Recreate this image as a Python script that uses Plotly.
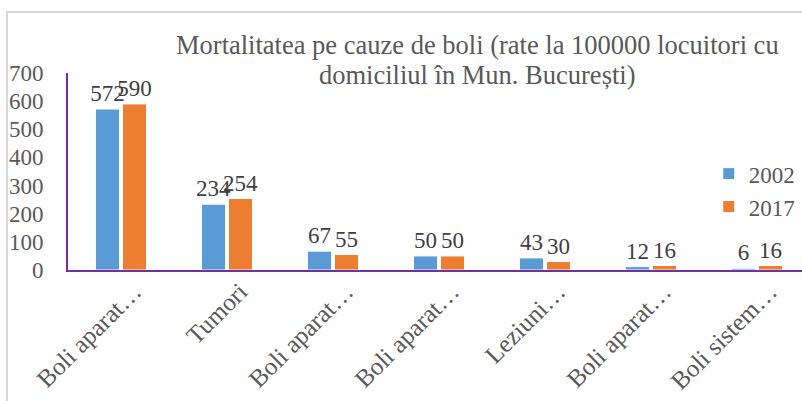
import plotly.graph_objects as go

categories = ["Boli aparat…", "Tumori", "Boli aparat…", "Boli aparat…", "Leziuni…", "Boli aparat…", "Boli sistem…"]
years = ["2002", "2017"]
values_2002 = [572, 234, 67, 50, 43, 12, 6]
values_2017 = [590, 254, 55, 50, 30, 16, 16]
title_lines = ["Mortalitatea pe cauze de boli (rate la 100000 locuitori cu", "domiciliul în Mun. București)"]

FONT = "Liberation Serif"
x_idx = list(range(len(categories)))

fig = go.Figure()
for name, vals, color in [(years[0], values_2002, "#5B9BD5"), (years[1], values_2017, "#ED7D31")]:
    lbl_font = dict(family=FONT, size=23, color="#404040")
    fig.add_trace(go.Bar(
        x=x_idx, y=vals, name=name,
        marker=dict(color=color, line=dict(color="white", width=1)),
        text=[str(v) for v in vals], textposition="outside", textangle=0,
        constraintext="none", cliponaxis=False,
        textfont=lbl_font, outsidetextfont=lbl_font,
    ))

fig.update_layout(
    width=802, height=401,
    margin=dict(l=68, r=0, t=73, b=131, autoexpand=False),
    paper_bgcolor="white", plot_bgcolor="white",
    barmode="group", bargap=0.49, bargroupgap=0.11,
    font=dict(family=FONT, size=23, color="#595959"),
    showlegend=True,
    legend=dict(x=0.873, y=0.598, xanchor="left", yanchor="top",
                font=dict(family=FONT, size=23, color="#595959"),
                bgcolor="rgba(0,0,0,0)", itemwidth=30, tracegroupgap=0),
    xaxis=dict(
        range=[-0.5, 6.425], tickmode="array", tickvals=x_idx, ticktext=categories,
        tickangle=-45, showline=True, linecolor="#7030A0", linewidth=2,
        showgrid=False, zeroline=False, ticks="", automargin=False,
        ticklabelshift=13, ticklabelstandoff=-5,
        tickfont=dict(family=FONT, size=25, color="#595959"),
    ),
    yaxis=dict(
        range=[0, 700], dtick=100, showline=True, linecolor="#7030A0", linewidth=2,
        showgrid=False, zeroline=False, ticks="outside", ticklen=18,
        tickcolor="rgba(0,0,0,0)", automargin=False,
        tickfont=dict(family=FONT, size=23, color="#595959"),
    ),
    shapes=[dict(type="rect", xref="paper", yref="paper",
                 x0=-0.0831, x1=1.05, y0=-1.0, y1=1.3096,
                 line=dict(color="#D9D9D9", width=2), fillcolor="rgba(0,0,0,0)", layer="below")],
    annotations=[
        dict(text=title_lines[0], xref="paper", yref="paper", x=0.558, y=1.142,
             xanchor="center", yanchor="middle", showarrow=False,
             font=dict(family=FONT, size=26.5, color="#595959")),
        dict(text=title_lines[1], xref="paper", yref="paper", x=0.558, y=0.99,
             xanchor="center", yanchor="middle", showarrow=False,
             font=dict(family=FONT, size=26.5, color="#595959")),
    ],
)

fig.write_html("out.html", config={"displayModeBar": False},
               post_script="document.body.style.margin='0px';")
